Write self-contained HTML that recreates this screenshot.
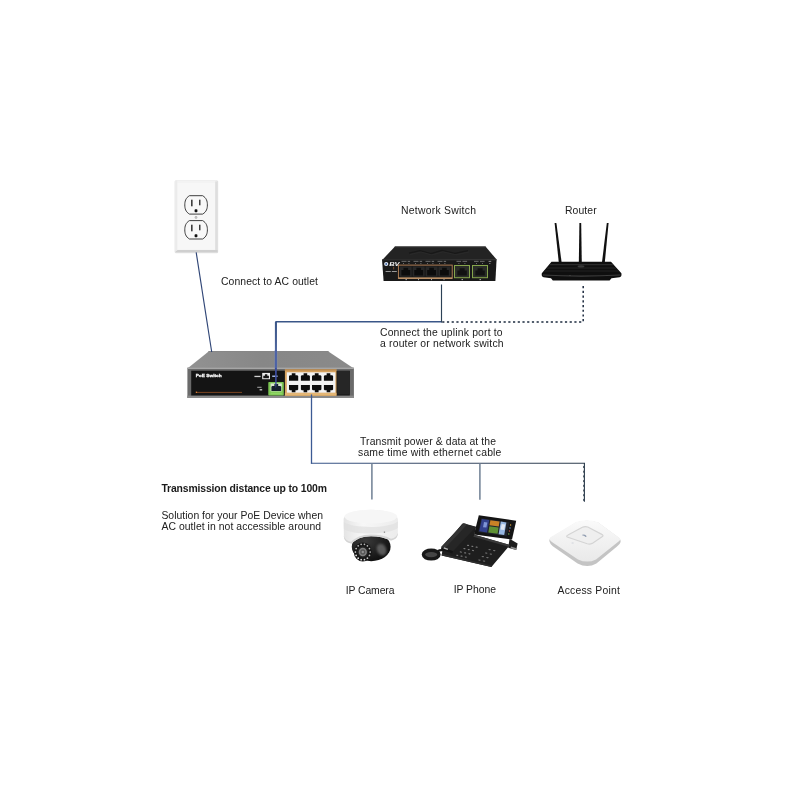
<!DOCTYPE html>
<html>
<head>
<meta charset="utf-8">
<title>PoE Switch connection diagram</title>
<style>
html,body{margin:0;padding:0;background:#fff;}
body{width:800px;height:800px;overflow:hidden;font-family:"Liberation Sans",sans-serif;}
svg{display:block;position:absolute;left:0;top:0;}
text{font-family:"Liberation Sans",sans-serif;font-size:10.4px;fill:#212121;}
.b{font-weight:700;fill:#1a1a1a;}
</style>
</head>
<body>
<svg width="800" height="800" viewBox="0 0 800 800">
<defs>
<linearGradient id="gTop" x1="0" y1="0" x2="1" y2="0">
<stop offset="0" stop-color="#929292"/><stop offset="0.45" stop-color="#878787"/><stop offset="1" stop-color="#8a8a8a"/>
</linearGradient>
<linearGradient id="gCam" x1="0" y1="0" x2="1" y2="0">
<stop offset="0" stop-color="#e4e4e4"/><stop offset="0.35" stop-color="#f7f7f7"/><stop offset="1" stop-color="#ececec"/>
</linearGradient>
<radialGradient id="gDome" cx="0.35" cy="0.3" r="0.8">
<stop offset="0" stop-color="#3a3a3a"/><stop offset="1" stop-color="#0c0c0c"/>
</radialGradient>
<linearGradient id="gAp" x1="0" y1="0" x2="0" y2="1">
<stop offset="0" stop-color="#fafafa"/><stop offset="1" stop-color="#e9e9e9"/>
</linearGradient>
<filter id="blur1" x="-50%" y="-50%" width="200%" height="200%"><feGaussianBlur stdDeviation="1.3"/></filter>
<filter id="blur05" x="-20%" y="-20%" width="140%" height="140%"><feGaussianBlur stdDeviation="0.5"/></filter>
<linearGradient id="gLine" gradientUnits="userSpaceOnUse" x1="311" y1="0" x2="585" y2="0"><stop offset="0" stop-color="#36558c"/><stop offset="0.35" stop-color="#374a68"/><stop offset="1" stop-color="#2b3a4a"/></linearGradient>
<linearGradient id="gUp" gradientUnits="userSpaceOnUse" x1="0" y1="322" x2="0" y2="352"><stop offset="0" stop-color="#3a5688"/><stop offset="0.6" stop-color="#465e94"/><stop offset="1" stop-color="#5168a2"/></linearGradient>
<filter id="blur03" x="-10%" y="-10%" width="120%" height="120%"><feGaussianBlur stdDeviation="0.35"/></filter>
</defs>
<rect width="800" height="800" fill="#ffffff"/>


<!-- ===== OUTLET ===== -->
<g id="outlet" transform="translate(0,0.4)">
<rect x="174.6" y="179.8" width="43.6" height="73" rx="1.5" fill="#e3e3e3"/>
<rect x="175.2" y="180.2" width="42" height="71.6" rx="1.2" fill="#f3f3f3"/>
<rect x="177.2" y="182.5" width="38" height="66.5" rx="1" fill="#f7f7f7"/>
<rect x="215.2" y="181" width="2.4" height="70.5" fill="#dedede"/>
<rect x="175.6" y="249.6" width="42" height="2.4" fill="#cfcfcf"/>
<rect x="175.2" y="180.4" width="2" height="70" fill="#ebebeb"/>
<!-- sockets -->
<g fill="#f8f8f8" stroke="#2a2a2a" stroke-width="0.9">
<path d="M189.5 195.3 H202.6 C206.5 197.5 207.4 201 207.4 204.5 C207.4 208 206.5 211.5 202.6 213.7 H189.5 C185.6 211.5 184.8 208 184.8 204.5 C184.8 201 185.6 197.5 189.5 195.3 Z"/>
<path d="M189.5 220.2 H202.6 C206.5 222.4 207.4 225.9 207.4 229.4 C207.4 232.9 206.5 236.4 202.6 238.6 H189.5 C185.6 236.4 184.8 232.9 184.8 229.4 C184.8 225.9 185.6 222.4 189.5 220.2 Z"/>
</g>
<g fill="#111">
<rect x="191.2" y="199.3" width="1.3" height="6.6"/><rect x="199.2" y="199.3" width="1.2" height="5.6"/>
<rect x="194.6" y="208.8" width="2.8" height="3" rx="0.8"/>
<rect x="191.2" y="224.3" width="1.3" height="6.6"/><rect x="199.2" y="224.3" width="1.2" height="5.6"/>
<rect x="194.6" y="233.8" width="2.8" height="3" rx="0.8"/>
</g>
<circle cx="196" cy="217" r="1.1" fill="#e6e6e6" stroke="#8a8a8a" stroke-width="0.4"/>
<line x1="196" y1="216" x2="196" y2="218" stroke="#777" stroke-width="0.4"/>
</g>

<!-- ===== POE SWITCH ===== -->
<g id="poe">
<polygon points="208.9,351.2 328,351.2 353.9,368.4 187.4,368.4" fill="url(#gTop)"/>
<polygon points="208.9,351.2 328,351.2 329.4,352.1 207.8,352.1" fill="#7c7c7c"/>
<rect x="187.4" y="367.8" width="166.5" height="30.2" fill="#6a6a6a"/>
<rect x="187.4" y="367.5" width="166.5" height="1.5" fill="#a6a6a6"/>
<rect x="187.4" y="395.6" width="166.5" height="2.4" fill="#8a8a8a"/>
<rect x="191.2" y="370.7" width="158.6" height="24.8" fill="#141414"/>
<rect x="337.2" y="371" width="12.6" height="23.6" fill="#262626"/>
<!-- gold block -->
<rect x="284.9" y="369.4" width="51.6" height="26.3" fill="#d6a25e"/>
<rect x="284.9" y="369.4" width="51.6" height="1.2" fill="#b98a50"/>
<rect x="284.9" y="392.8" width="51.6" height="2.9" fill="#e4b674"/>
<rect x="286.8" y="372.3" width="48.6" height="20.4" fill="#f2f2f2"/>
<path d="M289.00 380.70 V376.00 L289.92 375.20 H291.76 V373.20 H295.44 V375.20 H297.28 L298.20 376.00 V380.70 Z" fill="#0d0d0d"/><path d="M289.00 385.00 V389.50 L289.92 390.30 H291.76 V392.20 H295.44 V390.30 H297.28 L298.20 389.50 V385.00 Z" fill="#0d0d0d"/><path d="M300.90 380.70 V376.00 L301.80 375.20 H303.60 V373.20 H307.20 V375.20 H309.00 L309.90 376.00 V380.70 Z" fill="#0d0d0d"/><path d="M300.90 385.00 V389.50 L301.80 390.30 H303.60 V392.20 H307.20 V390.30 H309.00 L309.90 389.50 V385.00 Z" fill="#0d0d0d"/><path d="M312.00 380.70 V376.00 L312.94 375.20 H314.82 V373.20 H318.58 V375.20 H320.46 L321.40 376.00 V380.70 Z" fill="#0d0d0d"/><path d="M312.00 385.00 V389.50 L312.94 390.30 H314.82 V392.20 H318.58 V390.30 H320.46 L321.40 389.50 V385.00 Z" fill="#0d0d0d"/><path d="M323.90 380.70 V376.00 L324.82 375.20 H326.66 V373.20 H330.34 V375.20 H332.18 L333.10 376.00 V380.70 Z" fill="#0d0d0d"/><path d="M323.90 385.00 V389.50 L324.82 390.30 H326.66 V392.20 H330.34 V390.30 H332.18 L333.10 389.50 V385.00 Z" fill="#0d0d0d"/>
<!-- green uplink port -->
<rect x="268.3" y="382" width="15.5" height="13.6" rx="0.8" fill="#7cc653"/>
<rect x="270.6" y="383.4" width="11.2" height="8" fill="#d8e6cc"/>
<path d="M271.4 391 V386.8 L272.2 386 H274.4 V383.9 H278.2 V386 H280.4 L281.2 386.8 V391 Z" fill="#16202c"/>
<rect x="270.6" y="392.6" width="11.2" height="1.8" fill="#90d665"/>
<!-- small port + labels -->
<rect x="262.2" y="372.9" width="7.8" height="6.3" fill="#ececec"/>
<path d="M263.3 378.3 V375.8 H264.9 V374.2 H267.3 V375.8 H268.9 V378.3 Z" fill="#151515"/>
<rect x="254.4" y="375.8" width="6.2" height="1.3" fill="#d0d0d0"/>
<rect x="272.2" y="375.5" width="5.4" height="1.5" fill="#9fb2d8"/>
<rect x="257.2" y="386.8" width="4.4" height="0.9" fill="#b5b5b5"/>
<rect x="259.6" y="389.2" width="2.6" height="1.2" fill="#e0e0e0"/>
<!-- text -->
<text opacity="0.999" x="195.7" y="377" textLength="25.9" lengthAdjust="spacingAndGlyphs" style="font-size:4.1px;font-weight:700;fill:#f4f4f4;stroke:#f4f4f4;stroke-width:0.3">PoE Switch</text>
<rect x="196.6" y="391.9" width="45.4" height="0.9" fill="#9a5426" opacity="0.85"/>
<rect x="195.8" y="391.6" width="1.3" height="1.4" fill="#d47a35"/>
</g>

<!-- ===== NETWORK SWITCH ===== -->
<g id="nsw">
<polygon points="395,246.4 485.5,246.4 496.6,259.6 382,260.2" fill="#232323"/>
<polygon points="395,246.4 485.5,246.4 486.4,247.4 394,247.4" fill="#343434"/>
<polygon points="382,259.6 496.6,259.2 495.4,281 383.6,281" fill="#191919"/>
<rect x="382.4" y="259.4" width="114" height="0.9" fill="#353535"/>
<!-- embossed logo on top -->
<path d="M409 253.2 L420 250.6 L431 253.6 L442 250.4 L455 253.4 L468 250.6" stroke="#181818" stroke-width="1.2" fill="none"/>
<path d="M410 254.6 L421 252 L432 255 L443 251.8 L456 254.8 L469 252" stroke="#2e2e2e" stroke-width="0.6" fill="none"/>
<rect x="401.5" y="260.9" width="5" height="0.8" fill="#7c7c7c"/><rect x="407.7" y="260.9" width="2.4" height="0.8" fill="#8a8a8a"/><rect x="403.1" y="263.1" width="0.8" height="0.8" fill="#9a9a9a"/><rect x="408.5" y="263.1" width="0.8" height="0.8" fill="#9a9a9a"/><rect x="413.5" y="260.9" width="5" height="0.8" fill="#7c7c7c"/><rect x="419.7" y="260.9" width="2.4" height="0.8" fill="#8a8a8a"/><rect x="415.1" y="263.1" width="0.8" height="0.8" fill="#9a9a9a"/><rect x="420.5" y="263.1" width="0.8" height="0.8" fill="#9a9a9a"/><rect x="425.5" y="260.9" width="5" height="0.8" fill="#7c7c7c"/><rect x="431.7" y="260.9" width="2.4" height="0.8" fill="#8a8a8a"/><rect x="427.1" y="263.1" width="0.8" height="0.8" fill="#9a9a9a"/><rect x="432.5" y="263.1" width="0.8" height="0.8" fill="#9a9a9a"/><rect x="437.5" y="260.9" width="5" height="0.8" fill="#7c7c7c"/><rect x="443.7" y="260.9" width="2.4" height="0.8" fill="#8a8a8a"/><rect x="439.1" y="263.1" width="0.8" height="0.8" fill="#9a9a9a"/><rect x="444.5" y="263.1" width="0.8" height="0.8" fill="#9a9a9a"/><rect x="456.5" y="260.9" width="4.6" height="0.8" fill="#7c7c7c"/><rect x="462.5" y="260.9" width="4.6" height="0.8" fill="#7c7c7c"/><rect x="458.5" y="263.1" width="0.8" height="0.8" fill="#9a9a9a"/><rect x="464.5" y="263.1" width="0.8" height="0.8" fill="#9a9a9a"/><rect x="474" y="260.9" width="4.6" height="0.8" fill="#7c7c7c"/><rect x="480" y="260.9" width="4.6" height="0.8" fill="#7c7c7c"/><rect x="476" y="263.1" width="0.8" height="0.8" fill="#9a9a9a"/><rect x="482" y="263.1" width="0.8" height="0.8" fill="#9a9a9a"/><rect x="488.6" y="260.9" width="2.6" height="0.9" fill="#9a9a9a"/><rect x="489.4" y="263.1" width="0.9" height="0.9" fill="#bdbdbd"/>
<!-- logo -->
<circle cx="386.2" cy="264" r="2.1" fill="#dfe8f5"/>
<circle cx="386.2" cy="264" r="0.9" fill="#3b5f9e"/>
<text opacity="0.999" x="389.2" y="266" textLength="10.4" lengthAdjust="spacingAndGlyphs" style="font-size:5.4px;font-weight:700;font-style:italic;fill:#f2f2f2">BV</text>
<rect x="385.6" y="271" width="5.2" height="0.9" fill="#a9a9a9"/><rect x="391.8" y="271" width="5" height="0.9" fill="#a9a9a9"/>
<rect x="393.4" y="266.8" width="0.7" height="2.6" fill="#a05f38"/>
<!-- 4 port group -->
<rect x="400.00" y="266.40" width="11.60" height="10.20" fill="#272727"/><path d="M401.39 270.07 H403.48 V267.83 H408.12 V270.07 H410.21 V275.58 H401.39 Z" fill="#0c0c0c"/><rect x="412.90" y="266.40" width="11.60" height="10.20" fill="#272727"/><path d="M414.29 270.07 H416.38 V267.83 H421.02 V270.07 H423.11 V275.58 H414.29 Z" fill="#0c0c0c"/><rect x="425.80" y="266.40" width="11.60" height="10.20" fill="#272727"/><path d="M427.19 270.07 H429.28 V267.83 H433.92 V270.07 H436.01 V275.58 H427.19 Z" fill="#0c0c0c"/><rect x="438.60" y="266.40" width="11.60" height="10.20" fill="#272727"/><path d="M439.99 270.07 H442.08 V267.83 H446.72 V270.07 H448.81 V275.58 H439.99 Z" fill="#0c0c0c"/>
<rect x="398.4" y="265.1" width="53.8" height="13.3" fill="none" stroke="#bd865a" stroke-width="0.9"/>
<rect x="398.4" y="277.4" width="53.8" height="1.3" fill="#c49a70"/>
<rect x="405.5" y="279.2" width="1.4" height="0.9" fill="#c9c9c9"/><rect x="418" y="279.2" width="1" height="0.9" fill="#c9c9c9"/><rect x="431" y="279.2" width="1" height="0.9" fill="#c9c9c9"/><rect x="443.5" y="279.2" width="1" height="0.9" fill="#c9c9c9"/>
<!-- green ports -->
<rect x="454.5" y="265.5" width="15" height="12.2" fill="#2a2d28" stroke="#86a54c" stroke-width="1"/>
<path d="M457.4 275.6 V270.4 H459.6 V268.2 H464.6 V270.4 H466.8 V275.6 Z" fill="#121212"/>
<rect x="472.5" y="265.5" width="15" height="12.2" fill="#2a2d28" stroke="#86a54c" stroke-width="1"/>
<path d="M475.4 275.6 V270.4 H477.6 V268.2 H482.6 V270.4 H484.8 V275.6 Z" fill="#121212"/>
<rect x="461.6" y="279.1" width="1.2" height="1" fill="#d5d5d5"/><rect x="479.6" y="279.1" width="1.2" height="1" fill="#d5d5d5"/>
</g>

<!-- ===== ROUTER ===== -->
<g id="router">
<!-- antennas -->
<polygon points="554.6,223 556.4,223 561.9,264.5 559,264.5" fill="#101010"/>
<polygon points="579.4,223 581.2,223 581.8,264 578.8,264" fill="#101010"/>
<polygon points="606.8,223 608.6,223 604.6,264.5 601.7,264.5" fill="#101010"/>
<!-- body -->
<path d="M551.5 261.8 H611 L621.4 273.2 Q622 276.6 619.6 277.2 L611.5 278.2 L609.6 280.6 H552.8 L551 278.2 L543.6 277.2 Q541.2 276.6 541.8 273.2 Z" fill="#0f0f0f"/>
<path d="M550.2 264 H612.4 L613.6 265.2 H549.2 Z" fill="#2b2b2b"/>
<path d="M547.2 267.4 H615.4 L616.4 268.5 H546.2 Z" fill="#262626"/>
<path d="M544.6 270.6 H618.2 L619 271.6 H543.8 Z" fill="#222"/>
<path d="M543 274.6 Q581 276.6 620.4 274.6 L620.4 275.6 Q581 277.8 543 275.6 Z" fill="#3c3c3c"/>
<ellipse cx="581" cy="266.4" rx="3.4" ry="1.1" fill="#3a3a3a"/>
<circle cx="570" cy="275.6" r="0.4" fill="#888"/>
</g>

<!-- ===== CAMERA ===== -->
<g id="cam">
<ellipse cx="371.2" cy="546.8" rx="19.4" ry="14.4" fill="url(#gDome)"/>
<ellipse cx="381.6" cy="549.6" rx="4.6" ry="6.2" fill="#6a6a6a" opacity="0.8" transform="rotate(-25 381.6 549.6)" filter="url(#blur1)"/>
<ellipse cx="362.8" cy="552" rx="9" ry="9.4" fill="#161616"/>
<circle cx="370.20" cy="552.00" r="0.85" fill="rgb(186,186,186)"/><circle cx="369.47" cy="555.43" r="0.85" fill="rgb(186,186,186)"/><circle cx="367.41" cy="558.18" r="0.85" fill="rgb(192,192,192)"/><circle cx="364.45" cy="559.70" r="0.85" fill="rgb(214,214,214)"/><circle cx="361.15" cy="559.70" r="0.85" fill="rgb(231,231,231)"/><circle cx="358.19" cy="558.18" r="0.85" fill="rgb(239,239,239)"/><circle cx="356.13" cy="555.43" r="0.85" fill="rgb(236,236,236)"/><circle cx="355.40" cy="552.00" r="0.85" fill="rgb(224,224,224)"/><circle cx="356.13" cy="548.57" r="0.85" fill="rgb(203,203,203)"/><circle cx="358.19" cy="545.82" r="0.85" fill="rgb(186,186,186)"/><circle cx="361.15" cy="544.30" r="0.85" fill="rgb(186,186,186)"/><circle cx="364.45" cy="544.30" r="0.85" fill="rgb(186,186,186)"/><circle cx="367.41" cy="545.82" r="0.85" fill="rgb(186,186,186)"/><circle cx="369.47" cy="548.57" r="0.85" fill="rgb(186,186,186)"/>
<ellipse cx="362.8" cy="552" rx="5.4" ry="5.7" fill="#262626"/>
<ellipse cx="362.8" cy="552" rx="4.1" ry="4.3" fill="#808080"/>
<ellipse cx="362.8" cy="552" rx="2.6" ry="2.8" fill="#585858"/>
<ellipse cx="362.8" cy="552" rx="1.2" ry="1.3" fill="#909090"/>
<path d="M343.6 520 C343.6 506.4 398 506.4 398 520 L397.8 534.6 C397 538.4 394.4 540 390.8 540.6 C385 537.6 378 536.2 371 536.2 C362 536.2 355.6 539.4 351.8 543.4 C347.4 543 344.4 540.8 343.9 537 Z" fill="url(#gCam)"/>
<path d="M343.8 522 C352 528.6 390 528.6 397.9 521.4 L397.8 528 C388 535.2 352 535.2 343.9 529 Z" fill="#e0e0e0" opacity="0.7"/>
<ellipse cx="370.8" cy="516.6" rx="26.4" ry="6.8" fill="#f6f6f6"/>
<path d="M343.9 535.6 C344.6 539.6 347.6 541.4 351.2 541.8 C355 537.8 362 534.6 371 534.6 C378.6 534.6 385.6 536 391 538.8 C394.4 538.2 397 536.6 397.8 533 L397.8 534.6 C397 538.4 394.4 540 390.8 540.6 C385 537.6 378 536.2 371 536.2 C362 536.2 355.6 539.4 351.8 543.4 C347.4 543 344.4 540.8 343.9 537 Z" fill="#d4d4d4"/>
<rect x="383.8" y="531.4" width="1.3" height="1.6" fill="#9a9a9a"/>
</g>

<!-- ===== PHONE ===== -->
<g id="phone">
<!-- stand -->
<polygon points="509.6,538.8 517.6,543.4 516.2,550 508.2,547.8" fill="#1d1d1d"/>
<polygon points="510.6,548.2 516.2,550 516.6,548.2 511,546.4" fill="#8a8a8a"/>
<!-- base body -->
<polygon points="462.4,523.4 476,527 474.4,534.8 510,545 491.4,567 441.6,555.4 443,547" fill="#1e1e1e"/>
<polygon points="474.4,534.8 510,545 508.6,546.8 473.4,536.8" fill="#3a3a3a"/>
<polygon points="441.6,555.4 491.4,567 491.8,565.6 442,553.8" fill="#2e2e2e"/>
<!-- handset -->
<polygon points="463.6,523.2 476,526.8 453,551.2 441.4,546.8" fill="#262626"/>
<polygon points="463.6,523.2 467.4,524.2 445,548.2 441.4,546.8" fill="#343434"/>
<polygon points="441.4,546.8 453,551.2 452.2,553.4 441,549.4" fill="#141414"/>
<rect x="443.6" y="548" width="4.4" height="1.4" fill="#b9b9b9" transform="rotate(20 445.8 548.7)"/>
<!-- cord -->
<ellipse cx="431.2" cy="554.6" rx="7.8" ry="4.3" fill="#454545" stroke="#181818" stroke-width="3.4"/>
<path d="M438 551 Q441 549.4 444 550.6" stroke="#161616" stroke-width="2.2" fill="none"/>
<ellipse cx="468.00" cy="545.40" rx="1.15" ry="0.6" fill="#7d7d7d" transform="rotate(12 468.00 545.40)"/><ellipse cx="472.30" cy="546.30" rx="1.15" ry="0.6" fill="#7d7d7d" transform="rotate(12 472.30 546.30)"/><ellipse cx="476.60" cy="547.20" rx="1.15" ry="0.6" fill="#7d7d7d" transform="rotate(12 476.60 547.20)"/><ellipse cx="464.40" cy="548.70" rx="1.15" ry="0.6" fill="#7d7d7d" transform="rotate(12 464.40 548.70)"/><ellipse cx="468.70" cy="549.60" rx="1.15" ry="0.6" fill="#7d7d7d" transform="rotate(12 468.70 549.60)"/><ellipse cx="473.00" cy="550.50" rx="1.15" ry="0.6" fill="#7d7d7d" transform="rotate(12 473.00 550.50)"/><ellipse cx="460.80" cy="552.00" rx="1.15" ry="0.6" fill="#7d7d7d" transform="rotate(12 460.80 552.00)"/><ellipse cx="465.10" cy="552.90" rx="1.15" ry="0.6" fill="#7d7d7d" transform="rotate(12 465.10 552.90)"/><ellipse cx="469.40" cy="553.80" rx="1.15" ry="0.6" fill="#7d7d7d" transform="rotate(12 469.40 553.80)"/><ellipse cx="457.20" cy="555.30" rx="1.15" ry="0.6" fill="#7d7d7d" transform="rotate(12 457.20 555.30)"/><ellipse cx="461.50" cy="556.20" rx="1.15" ry="0.6" fill="#7d7d7d" transform="rotate(12 461.50 556.20)"/><ellipse cx="465.80" cy="557.10" rx="1.15" ry="0.6" fill="#7d7d7d" transform="rotate(12 465.80 557.10)"/><ellipse cx="489.60" cy="549.60" rx="1.3" ry="0.6" fill="#707070" transform="rotate(12 489.60 549.60)"/><ellipse cx="494.20" cy="550.60" rx="1.3" ry="0.6" fill="#707070" transform="rotate(12 494.20 550.60)"/><ellipse cx="486.20" cy="553.10" rx="1.3" ry="0.6" fill="#707070" transform="rotate(12 486.20 553.10)"/><ellipse cx="490.80" cy="554.10" rx="1.3" ry="0.6" fill="#707070" transform="rotate(12 490.80 554.10)"/><ellipse cx="482.80" cy="556.60" rx="1.3" ry="0.6" fill="#707070" transform="rotate(12 482.80 556.60)"/><ellipse cx="487.40" cy="557.60" rx="1.3" ry="0.6" fill="#707070" transform="rotate(12 487.40 557.60)"/><ellipse cx="479.40" cy="560.10" rx="1.3" ry="0.6" fill="#707070" transform="rotate(12 479.40 560.10)"/><ellipse cx="484.00" cy="561.10" rx="1.3" ry="0.6" fill="#707070" transform="rotate(12 484.00 561.10)"/>
<!-- screen -->
<polygon points="478.8,515.2 516.2,520.8 512,539.6 474,534.6" fill="#141414"/>
<polygon points="481.4,518.2 509.4,522.2 506.8,536.2 478.2,532" fill="#20242c"/>
<g filter="url(#blur03)"><polygon points="481.8,519 489.2,520 487,532.4 479.2,531.2" fill="#333f8c"/>
<polygon points="484,522 487.4,522.4 486.4,527.6 483,527.2" fill="#7f94d4"/>
<polygon points="490.4,520.2 499.6,521.5 498.7,526.6 489.5,525.3" fill="#c98228"/>
<polygon points="489.4,526.2 498.6,527.4 497.6,533.8 488.3,532.6" fill="#5f9234"/>
<polygon points="500.8,521.6 506.4,522.4 504.2,535 498.6,534.2" fill="#98b8e2"/>
<polygon points="501.6,524 505.2,524.5 504.2,530 500.6,529.5" fill="#dfe7f2"/>
</g>
<circle cx="510.6" cy="525" r="0.7" fill="#d9a53a"/><circle cx="510" cy="528" r="0.7" fill="#6a9bd8"/><circle cx="509.4" cy="531" r="0.7" fill="#c85a4a"/><circle cx="508.8" cy="534" r="0.7" fill="#7ab85a"/>
</g>

<!-- ===== AP ===== -->
<g id="ap">
<path d="M549.4 541.2 Q548.8 538.6 553 536.4 L576 522.4 Q587 518.8 598 522.6 L617.4 536.8 Q621.2 539.4 620.6 542 Q620.2 544 617 546.4 L596.4 563.4 Q587.4 568.4 577.6 563.4 L552.8 546.2 Q549.8 543.4 549.4 541.2 Z" fill="#c4c4c4"/>
<path d="M549.6 539.2 Q549.2 537.6 553 535.8 L576 522 Q587 518.6 598 522.2 L617.2 536.2 Q620.8 538.2 620.2 539.8 Q619.8 541 617 542.8 L596 559.4 Q587.4 563.8 578 559.4 L553 542.8 Q550 540.8 549.6 539.2 Z" fill="url(#gAp)"/>
<path d="M567.2 537 Q566 536 568 535 L582.4 527.2 Q585 526 587.8 527 L601.8 534.4 Q603.8 535.4 602.4 536.6 L592.2 543.4 Q589.8 544.6 587.2 543.8 Z" fill="#efefef" stroke="#d4d4d4" stroke-width="1.2"/>
<path d="M582.6 534.4 l2.4 0.4 l1.8 1.5 l-1.3 0.6 l-1.4 -1.2 l-1.8 -0.3 Z" fill="#8b98ad"/>
<rect x="571.6" y="542.6" width="2" height="0.8" fill="#c8ced6"/>
</g>

<!-- ===== LINES ===== -->
<g id="lines" fill="none">
<!-- AC wire -->
<line x1="196.2" y1="252.4" x2="211.7" y2="352" stroke="#2f4576" stroke-width="1.15"/>
<!-- uplink solid -->
<path d="M275.9 352 V321.75 H442" stroke="#3a5688" stroke-width="1.5" stroke-linejoin="round"/>
<line x1="275.9" y1="322" x2="275.9" y2="352" stroke="url(#gUp)" stroke-width="2"/>
<line x1="275.9" y1="351" x2="275.9" y2="368" stroke="#8a96b8" stroke-width="3.4" opacity="0.45"/>
<line x1="275.9" y1="350" x2="275.9" y2="368.5" stroke="#4c62a6" stroke-width="2.1"/>
<path d="M274.95 368 H276.85 L276.6 384 L275.9 388.5 L275.2 384 Z" fill="#3c4c9c" stroke="none"/>
<!-- network switch drop -->
<line x1="441.5" y1="284.5" x2="441.5" y2="322.4" stroke="#2c4156" stroke-width="1.15"/>
<!-- dotted to router -->
<path d="M442.2 321.9 H583.2 V285.4" stroke="#1d2b3f" stroke-width="1.5" stroke-dasharray="2.2 2.52"/>
<!-- PoE out -->
<line x1="311.5" y1="394.4" x2="311.5" y2="463.6" stroke="#3c5a94" stroke-width="1.3"/>
<line x1="310.9" y1="463.2" x2="585" y2="463.2" stroke="url(#gLine)" stroke-width="1.1"/>
<line x1="371.9" y1="463.6" x2="371.9" y2="499.6" stroke="#6f7f93" stroke-width="1.5"/>
<line x1="479.9" y1="463.6" x2="479.9" y2="499.8" stroke="#6f7f93" stroke-width="1.5"/>
<line x1="584.4" y1="463" x2="584.4" y2="501.8" stroke="#2b3a4a" stroke-width="1.1"/>
<line x1="583.5" y1="466" x2="583.5" y2="501.8" stroke="#2b3a4a" stroke-width="0.9" stroke-dasharray="2 2.7" opacity="0.85"/>
</g>

<!-- ===== TEXT ===== -->
<g id="labels" opacity="0.999">
<text x="221" y="285" textLength="97" lengthAdjust="spacing">Connect to AC outlet</text>
<text x="401" y="213.8" textLength="75" lengthAdjust="spacing">Network Switch</text>
<text x="565" y="213.8" textLength="31.6" lengthAdjust="spacing">Router</text>
<text x="380" y="336.2" textLength="122.6" lengthAdjust="spacing">Connect the uplink port to</text>
<text x="380" y="346.8" textLength="123.6" lengthAdjust="spacing">a router or network switch</text>
<text x="360" y="444.8" textLength="136" lengthAdjust="spacing">Transmit power &amp; data at the</text>
<text x="358" y="455.5" textLength="143.4" lengthAdjust="spacing">same time with ethernet cable</text>
<text class="b" x="161.4" y="492.2" textLength="165.6" lengthAdjust="spacing">Transmission distance up to 100m</text>
<text x="161.4" y="518.8" textLength="161.6" lengthAdjust="spacing">Solution for your PoE Device when</text>
<text x="161.4" y="529.5" textLength="159.6" lengthAdjust="spacing">AC outlet in not accessible around</text>
<text x="345.7" y="593.8" textLength="48.8" lengthAdjust="spacing">IP Camera</text>
<text x="453.7" y="593" textLength="42.3" lengthAdjust="spacing">IP Phone</text>
<text x="557.6" y="593.8" textLength="62.2" lengthAdjust="spacing">Access Point</text>
</g>
</svg>
</body>
</html>
